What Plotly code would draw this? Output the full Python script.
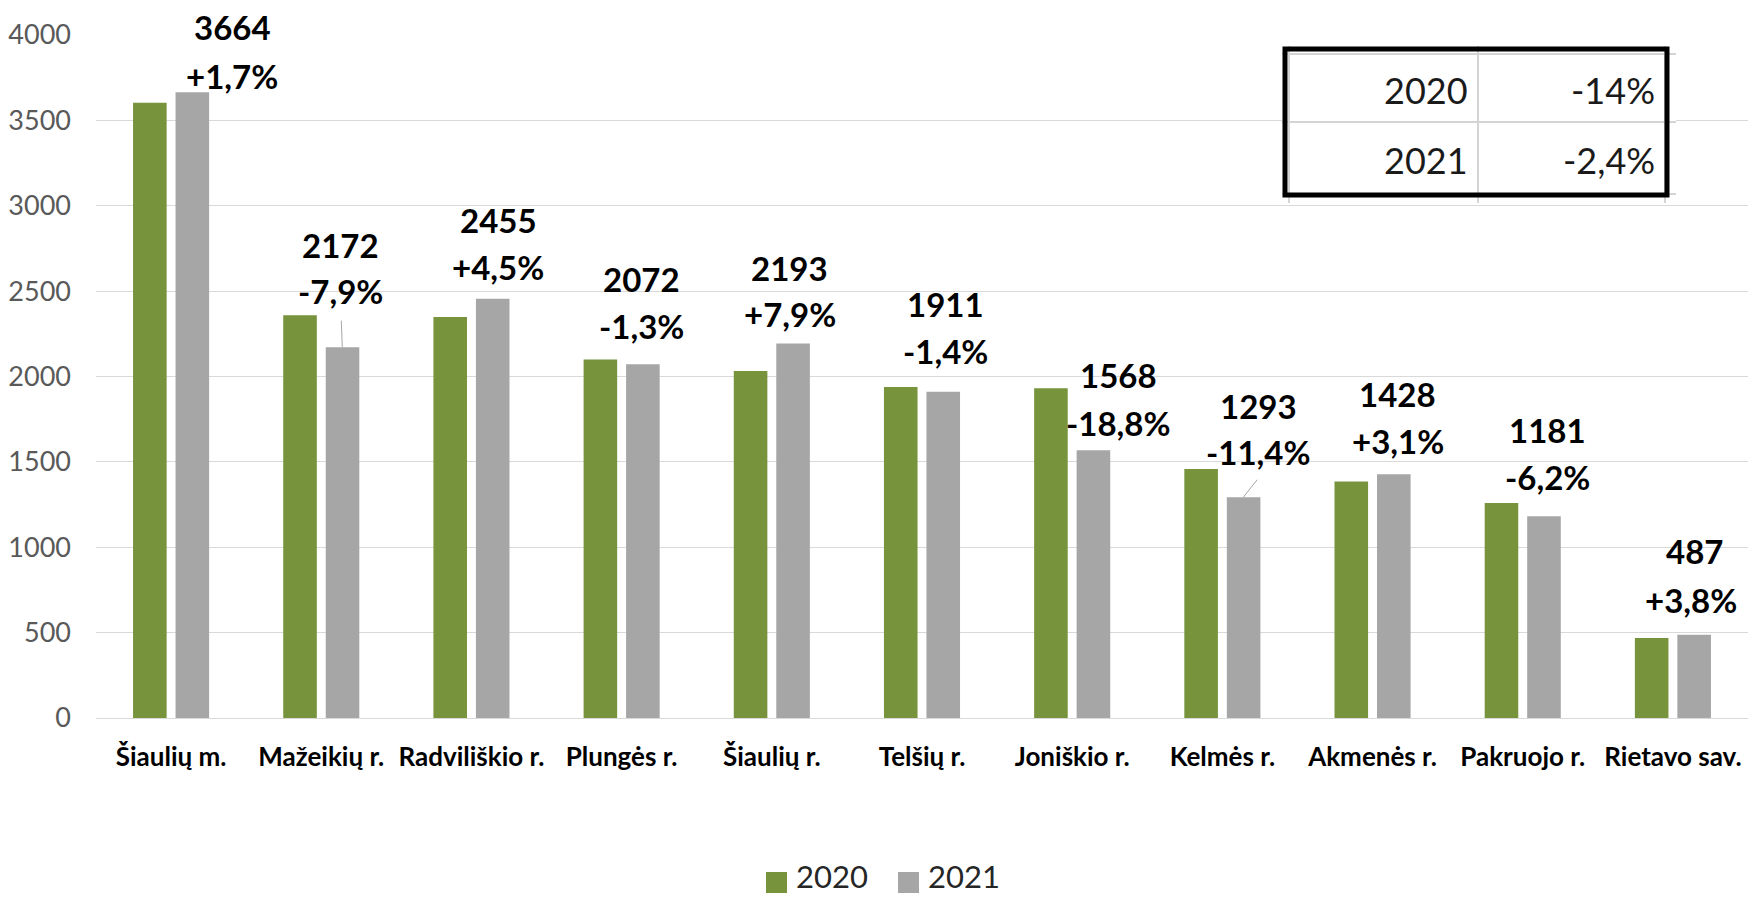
import plotly.graph_objects as go

# ---- data ----
categories = ["Šiaulių m.", "Mažeikių r.", "Radviliškio r.", "Plungės r.", "Šiaulių r.",
              "Telšių r.", "Joniškio r.", "Kelmės r.", "Akmenės r.", "Pakruojo r.", "Rietavo sav."]
values_2020 = [3603, 2358, 2349, 2099, 2032, 1938, 1931, 1459, 1385, 1259, 469]
values_2021 = [3664, 2172, 2455, 2072, 2193, 1911, 1568, 1293, 1428, 1181, 487]
change_labels = ["+1,7%", "-7,9%", "+4,5%", "-1,3%", "+7,9%", "-1,4%", "-18,8%",
                 "-11,4%", "+3,1%", "-6,2%", "+3,8%"]
series_names = ["2020", "2021"]
y_ticks = [0, 500, 1000, 1500, 2000, 2500, 3000, 3500, 4000]
table_years = ["2020", "2021"]
table_changes = ["-14%", "-2,4%"]

# ---- layout constants (pixels) ----
W, H = 1748, 897
ML, MR, MT, MB = 96, 0, 35, 179
PW, PH = W - ML - MR, H - MT - MB
GREEN, GRAY = "#77933C", "#A6A6A6"
FONT = "Lato"

def px(x):
    return (x - ML) / PW

def py(y):
    return (H - MB - y) / PH

# label offsets relative to category centre / 2021 bar top (dx, up1, up2)
label_offsets = [(61, 65, 16), (19, 102, 56), (27, 79, 32), (20, 85, 38), (18, 76, 30),
                 (23, 88, 41), (46, 75, 27), (36, 91, 45), (25, 80, 33), (25, 86, 39),
                 (22, 84, 35)]
leader_lines = {1: (-1, -28), 7: (15, -19)}
gray_offset = 21

fig = go.Figure()
fig.add_trace(go.Bar(x=categories, y=values_2020, name=series_names[0],
                     marker=dict(color=GREEN, line=dict(width=0)), showlegend=False))
fig.add_trace(go.Bar(x=categories, y=values_2021, name=series_names[1],
                     marker=dict(color=GRAY, line=dict(width=0)), showlegend=False))

annotations = []
for i, cat in enumerate(categories):
    dx, u1, u2 = label_offsets[i]
    annotations.append(dict(x=cat, y=values_2021[i], xref="x", yref="y", text=str(values_2021[i]),
                            showarrow=False, xshift=dx, yshift=u1, xanchor="center", yanchor="middle",
                            font=dict(family=FONT, size=33, color="#000000", weight="bold")))
    annotations.append(dict(x=cat, y=values_2021[i], xref="x", yref="y", text=change_labels[i],
                            showarrow=False, xshift=dx - (4 if i == 10 else 0), yshift=u2,
                            xanchor="center", yanchor="middle",
                            font=dict(family=FONT, size=33, color="#000000", weight="bold")))
for i, (ax, ay) in leader_lines.items():
    annotations.append(dict(x=categories[i], y=values_2021[i], xref="x", yref="y", text="",
                            showarrow=True, arrowhead=0, arrowwidth=1, arrowcolor="#A6A6A6",
                            ax=ax, ay=ay, xshift=gray_offset, standoff=0, startstandoff=0))

shapes = []
# table
tx0, tx1, ty0, ty1 = 1285, 1667, 49, 195
shapes.append(dict(type="rect", xref="paper", yref="paper", x0=px(1282), x1=px(1676),
                   y0=py(46), y1=py(203), fillcolor="white", line=dict(width=0), layer="above"))
for yy in [54, 122, 194]:
    shapes.append(dict(type="line", xref="paper", yref="paper", x0=px(1282), x1=px(1676),
                       y0=py(yy), y1=py(yy), line=dict(color="#D4D4D4", width=2)))
for xx in [1289, 1478, 1665]:
    shapes.append(dict(type="line", xref="paper", yref="paper", x0=px(xx), x1=px(xx),
                       y0=py(46), y1=py(203), line=dict(color="#D4D4D4", width=2)))
shapes.append(dict(type="rect", xref="paper", yref="paper", x0=px(tx0), x1=px(tx1),
                   y0=py(ty0), y1=py(ty1), line=dict(color="black", width=5)))
for r, (yr, ch) in enumerate(zip(table_years, table_changes)):
    yc = [90, 160][r]
    annotations.append(dict(x=px(1470), y=py(yc), xref="paper", yref="paper", text=yr,
                            showarrow=False, xanchor="right", yanchor="middle",
                            font=dict(family=FONT, size=36, color="#1a1a1a")))
    annotations.append(dict(x=px(1657), y=py(yc), xref="paper", yref="paper", text=ch,
                            showarrow=False, xanchor="right", yanchor="middle",
                            font=dict(family=FONT, size=36, color="#1a1a1a")))

# manual legend
for (sx, color, tx, name) in [(766, GREEN, 795, series_names[0]), (898, GRAY, 927, series_names[1])]:
    shapes.append(dict(type="rect", xref="paper", yref="paper", x0=px(sx), x1=px(sx + 21),
                       y0=py(872), y1=py(893), fillcolor=color, line=dict(width=0)))
    annotations.append(dict(x=px(tx), y=py(896), xref="paper", yref="paper", text=name,
                            showarrow=False, xanchor="left", yanchor="bottom", borderpad=0,
                            font=dict(family=FONT, size=31, color="#262626")))

fig.update_layout(
    width=W, height=H, margin=dict(l=ML, r=MR, t=MT, b=MB, autoexpand=False),
    paper_bgcolor="white", plot_bgcolor="white",
    barmode="group", bargap=0.434, bargroupgap=0.21,
    showlegend=False,
    annotations=annotations, shapes=shapes,
    xaxis=dict(type="category", showgrid=False, showline=True, linecolor="#D9D9D9", linewidth=1,
               ticks="", tickangle=0,
               tickfont=dict(family=FONT, size=26, color="#000000", weight="bold"),
               ticklabelstandoff=16),
    yaxis=dict(range=[0, 4000], tickvals=y_ticks, showgrid=True, gridcolor="#D9D9D9", gridwidth=1,
               zeroline=False, showline=False, ticks="",
               tickfont=dict(family=FONT, size=27, color="#595959"), ticklabelstandoff=24),
)

fig.write_html("out.html", config={"displayModeBar": False},
               post_script="document.body.style.margin='0px';")
